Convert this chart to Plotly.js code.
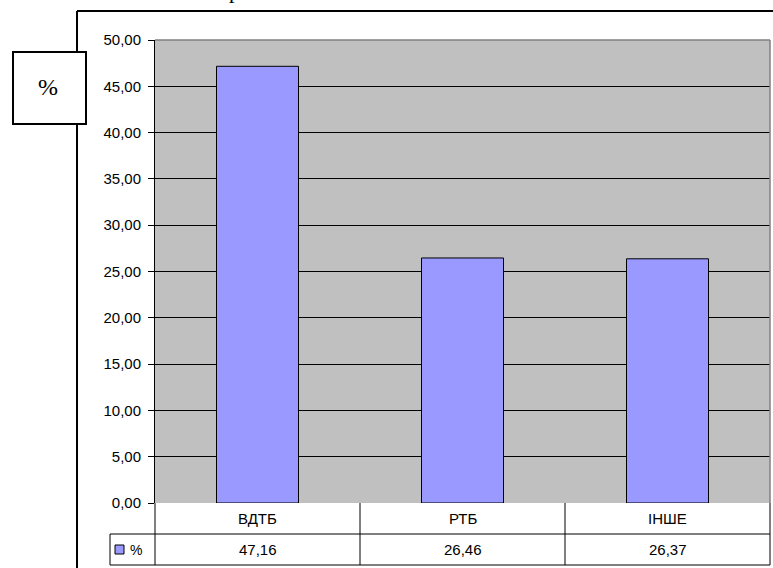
<!DOCTYPE html>
<html>
<head>
<meta charset="utf-8">
<script src="https://cdn.plot.ly/plotly-3.0.1.min.js"></script>
<style>html,body{margin:0;padding:0;background:#fff;}#chart{width:773px;height:568px;}</style>
</head>
<body>
<div id="chart"></div>
<script>
// ---- data ----
const categories = ["ВДТБ", "РТБ", "ІНШЕ"];
const values = [47.16, 26.46, 26.37];
const valueLabels = ["47,16", "26,46", "26,37"];
const seriesName = "%";
const tickValues = [0, 5, 10, 15, 20, 25, 30, 35, 40, 45, 50];
const tickLabels = ["0,00", "5,00", "10,00", "15,00", "20,00", "25,00", "30,00", "35,00", "40,00", "45,00", "50,00"];

// ---- layout helpers (pixels -> paper) ----
const W = 773, H = 568;
const L = 155, R = 3, T = 40, B = 65;
const pw = W - L - R, ph = H - T - B;
const px = x => (x - L) / pw;
const py = y => (H - B - y) / ph;
const n = categories.length;
const catEdge = i => i / n; // paper x of category boundary (range -0.5..n-0.5)

const shapes = [];
const annotations = [];
const line = {color: "#000", width: 1};
const ann = o => Object.assign({showarrow: false, xanchor: "center", yanchor: "middle"}, o);
const txtFont = {family: "Liberation Sans, Arial", size: 15, color: "#000"};

// outer chart area border (left and top)
shapes.push({type: "line", xref: "paper", yref: "paper", x0: px(77), x1: px(773), y0: py(11), y1: py(11), line: {color: "#000", width: 2}});
shapes.push({type: "line", xref: "paper", yref: "paper", x0: px(77), x1: px(77), y0: py(11), y1: py(570), line: {color: "#000", width: 2}});
// "%" box
shapes.push({type: "rect", xref: "paper", yref: "paper", x0: px(13), x1: px(86), y0: py(52), y1: py(124), fillcolor: "#fff", line: {color: "#000", width: 2}});
annotations.push(ann({xref: "paper", yref: "paper", x: px(48), y: py(87), text: "%", font: {family: "Liberation Serif", size: 24, color: "#000"}}));

// plot area border (gray) top & right
shapes.push({type: "line", xref: "paper", yref: "paper", x0: 0, x1: 1, y0: 1, y1: 1, line: {color: "#808080", width: 1.5}});
shapes.push({type: "line", xref: "paper", yref: "paper", x0: 1, x1: 1, y0: 0, y1: 1, line: {color: "#808080", width: 1.5}});

// data table
const rowTop = py(503), rowMid = py(534), rowBot = py(565);
shapes.push({type: "line", xref: "paper", yref: "paper", x0: 0, x1: 1, y0: rowMid, y1: rowMid, line});
shapes.push({type: "line", xref: "paper", yref: "paper", x0: px(110), x1: 1, y0: rowBot, y1: rowBot, line});
shapes.push({type: "line", xref: "paper", yref: "paper", x0: px(110), x1: 0, y0: rowMid, y1: rowMid, line});
shapes.push({type: "line", xref: "paper", yref: "paper", x0: px(110), x1: px(110), y0: rowMid, y1: rowBot, line});
for (let i = 0; i <= n; i++) {
  shapes.push({type: "line", xref: "paper", yref: "paper", x0: catEdge(i), x1: catEdge(i), y0: rowTop, y1: rowBot, line});
}
// legend key
shapes.push({type: "rect", xref: "paper", yref: "paper", x0: px(115), x1: px(124), y0: py(545), y1: py(554), fillcolor: "#9999FF", line: {color: "#000", width: 1}});
annotations.push(ann({xref: "paper", yref: "paper", x: px(128), y: py(549.5), xanchor: "left", text: seriesName, font: {family: "Liberation Sans", size: 14, color: "#000"}}));
categories.forEach((c, i) => {
  annotations.push(ann({xref: "x", yref: "paper", x: c, y: py(518.5), text: c, font: txtFont}));
  annotations.push(ann({xref: "x", yref: "paper", x: c, y: py(549.5), text: valueLabels[i], font: txtFont}));
});

// cropped title fragment (reference shows only the bottom of this glyph)
annotations.push(ann({xref: "paper", yref: "paper", x: px(234), y: py(-9), text: "р", font: {family: "Liberation Serif", size: 22, color: "#000"}}));

const trace = {
  type: "bar",
  x: categories,
  y: values,
  name: seriesName,
  width: 0.4,
  marker: {color: "#9999FF", line: {color: "#000", width: 1}},
  hoverinfo: "none"
};

const layout = {
  width: W, height: H,
  margin: {l: L, r: R, t: T, b: B, pad: 0},
  paper_bgcolor: "#fff",
  plot_bgcolor: "#C0C0C0",
  showlegend: false,
  bargap: 0.6,
  xaxis: {type: "category", range: [-0.5, n - 0.5], showticklabels: false, ticks: "", showgrid: false, zeroline: false, showline: false, fixedrange: true},
  yaxis: {range: [0, 50], tickvals: tickValues, ticktext: tickLabels, ticks: "outside", ticklen: 6, tickcolor: "#000", tickwidth: 1,
          showgrid: true, gridcolor: "#000", gridwidth: 1, zeroline: false, showline: true, linecolor: "#000", linewidth: 1,
          tickfont: txtFont, ticklabelstandoff: 4, fixedrange: true},
  shapes, annotations
};

Plotly.newPlot("chart", [trace], layout, {staticPlot: true, displayModeBar: false});
</script>
</body>
</html>
